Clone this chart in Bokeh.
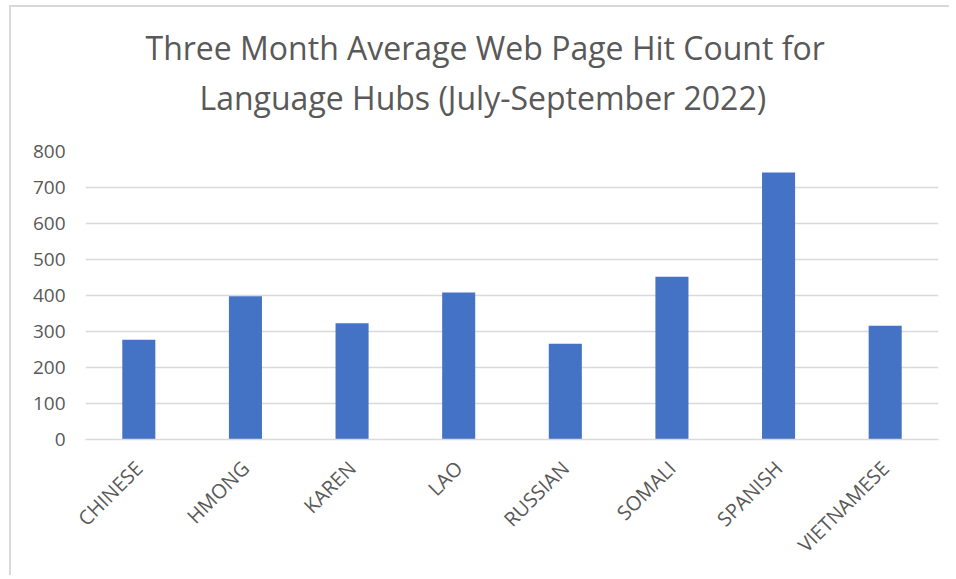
from math import pi
from bokeh.plotting import figure
from bokeh.models import Title, FactorRange, SingleIntervalTicker
from bokeh.embed import file_html
from bokeh.resources import INLINE

categories = ["CHINESE", "HMONG", "KAREN", "LAO", "RUSSIAN", "SOMALI", "SPANISH", "VIETNAMESE"]
hits = [277, 398, 323, 408, 266, 452, 742, 316]
title_lines = ["Three Month Average Web Page Hit Count for",
               "Language Hubs (July-September 2022)"]

FONT = "Open Sans"
GREY = "#595959"

p = figure(x_range=FactorRange(*categories, range_padding=0), y_range=(0, 800),
           width=940, height=570, output_backend="svg", toolbar_location=None,
           min_border_left=74, min_border_right=13, min_border_top=144, min_border_bottom=138,
           styles={"border-top": "2px solid #d9d9d9", "border-left": "2px solid #d9d9d9",
                   "margin-left": "9px", "margin-top": "5px"})

p.vbar(x=categories, top=hits, width=0.31, fill_color="#4472c4", line_color=None)

for i, t in enumerate(reversed(title_lines)):
    p.add_layout(Title(text=t, text_font=FONT, text_font_size="32px", text_color=GREY,
                       text_font_style="normal", align="left", offset=[114, 60][i],
                       standoff=[66, -56][i]), "above")

p.outline_line_color = None
p.background_fill_color = "white"
p.border_fill_color = "white"

p.xgrid.grid_line_color = None
p.ygrid.grid_line_color = "#d9d9d9"
p.ygrid.grid_line_width = 1.5

p.yaxis.ticker = SingleIntervalTicker(interval=100)
p.yaxis.axis_line_color = None
p.yaxis.major_tick_line_color = None
p.yaxis.minor_tick_line_color = None
p.yaxis.major_label_standoff = 14
p.yaxis.major_label_text_font = FONT
p.yaxis.major_label_text_font_size = "19px"
p.yaxis.major_label_text_color = GREY

p.xaxis.axis_line_color = "#d9d9d9"
p.xaxis.axis_line_width = 1.5
p.xaxis.major_tick_line_color = None
p.xaxis.major_label_orientation = pi / 4
p.xaxis.major_label_standoff = 19
p.xaxis.major_label_text_font = FONT
p.xaxis.major_label_text_font_size = "20px"
p.xaxis.major_label_text_color = GREY

open("out.html", "w").write(file_html(p, INLINE))
